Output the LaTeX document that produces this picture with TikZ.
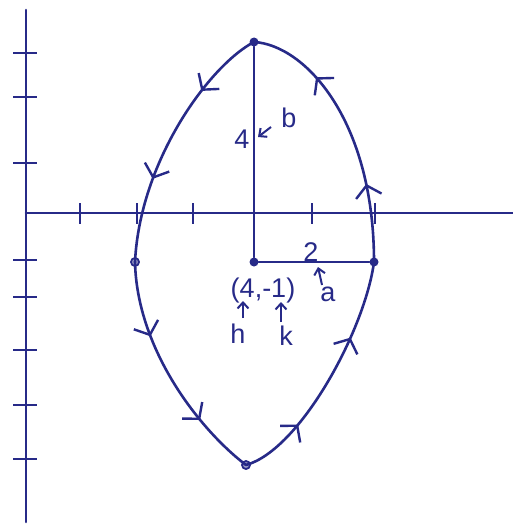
\documentclass[tikz,border=0pt]{standalone}
\usepackage{fontspec}
\setmainfont{Liberation Sans}
\usetikzlibrary{arrows.meta, decorations.markings}
\definecolor{ink}{HTML}{272A88}
\tikzset{
  pen/.style={draw=ink, line width=2.6pt, line cap=round},
  tick/.style={draw=ink, line width=2.6pt},
  lbl/.style={text=ink, font=\fontsize{27}{29}\selectfont, inner sep=0pt},
  vtx/.style={circle, fill=ink, inner sep=0pt, minimum size=9pt},
  hvtx/.style={circle, draw=ink, fill=ink!45, line width=1.8pt, inner sep=0pt, minimum size=8pt},
  fl/.style={-{Straight Barb[length=6pt, width=11pt]}, draw=ink, line width=2pt},
  chev/.style={ink, line width=2.4pt},
  flow/.style 2 args={postaction={decorate}, decoration={markings,
      mark=at position #1 with {\chevtip}, mark=at position #2 with {\chevtip}}},
}
\newcommand{\chevtip}{\arrow[chev]{Straight Barb[length=11pt, width=26pt]}}

\begin{document}
\begin{tikzpicture}[x=1pt, y=-1pt]
    \useasboundingbox[fill=white] (0,0) rectangle (513,527);
    % axes
    \coordinate (ytop) at (26,10); \coordinate (ybot) at (26,522);
    \coordinate (xlft) at (26,213); \coordinate (xrgt) at (513,213);
    \draw[pen] (ytop) -- (ybot);
    \draw[pen] (xlft) -- (xrgt);
    \foreach \x in {80,137,193,312,375} \draw[tick] (\x,203) -- (\x,224);
    \foreach \y in {53,97,163,260,297,350,405,459} \draw[tick] (13,\y) -- (37,\y);
    % vertices and centre
    \node[vtx] (top) at (254,42) {};
    \node[vtx] (ctr) at (254,262) {};
    \node[vtx] (rv) at (374,262) {};
    \node[hvtx] (lv) at (135,262) {};
    \node[hvtx] (bv) at (246,465) {};
    % ellipse, traced counter-clockwise
    \draw[pen, flow={0.29}{0.73}] (rv.center) .. controls (374,120) and (305,45) .. (top.center);
    \draw[pen, flow={0.28}{0.67}] (top.center) .. controls (210,65) and (140,160) .. (lv.center);
    \draw[pen, flow={0.32}{0.73}] (lv.center) .. controls (137,350) and (200,430) .. (bv.center);
    \draw[pen, flow={0.27}{0.68}] (bv.center) .. controls (300,450) and (365,330) .. (rv.center);
    \draw[pen] (top) -- (ctr);
    \draw[pen] (ctr) -- (rv);
    % labels
    \node[lbl] (four) at (242,139) {4};
    \node[lbl] (bl) at (289,118) {b};
    \coordinate (btail) at (271,127); \coordinate (bhead) at (258,137);
    \draw[fl] (btail) -- (bhead);
    \node[lbl] (two) at (311,252) {2};
    \node[lbl] (al) at (328,294) {a};
    \coordinate (atail) at (322,285); \coordinate (ahead) at (318,267);
    \draw[fl] (atail) -- (ahead);
    \node[lbl] (hk) at (263,291) {(4,-1)};
    \node[lbl] (hl) at (238,334) {h};
    \node[lbl] (kl) at (286,336) {k};
    \coordinate (htail) at (243,318); \coordinate (hhead) at (243,301);
    \coordinate (ktail) at (281,322); \coordinate (khead) at (281,302);
    \draw[fl] (htail) -- (hhead);
    \draw[fl] (ktail) -- (khead);
\end{tikzpicture}
\end{document}
